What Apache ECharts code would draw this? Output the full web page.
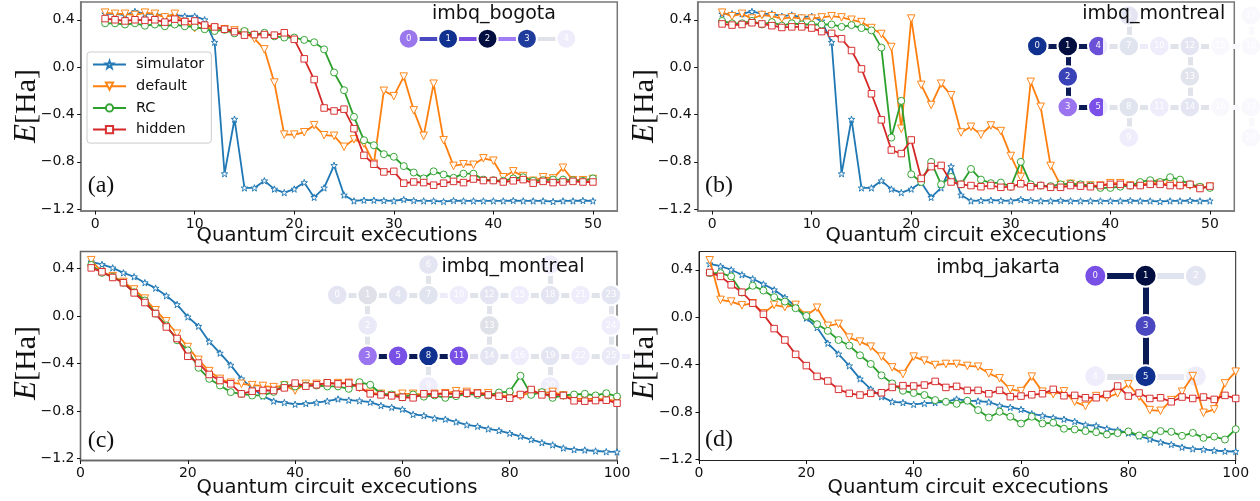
<!DOCTYPE html>
<html>
<head>
<meta charset="utf-8">
<style>
  html, body { margin: 0; padding: 0; background: #fff; }
  #chart { width: 1260px; height: 501px; }
</style>
<script src="https://cdn.jsdelivr.net/npm/echarts@6/dist/echarts.min.js"></script>
</head>
<body>
<div id="chart"></div>
<script>
// x values
const stepsTop = [1,2,3,4,5,6,7,8,9,10,11,12,13,14,15,16,17,18,19,20,21,22,23,24,25,26,27,28,29,30,31,32,33,34,35,36,37,38,39,40,41,42,43,44,45,46,47,48,49,50];
const stepsBottom = [2,4,6,8,10,12,14,16,18,20,22,24,26,28,30,32,34,36,38,40,42,44,46,48,50,52,54,56,58,60,62,64,66,68,70,72,74,76,78,80,82,84,86,88,90,92,94,96,98,100];

// panel (a)
const aSim = [0.45,0.45,0.44,0.47,0.45,0.45,0.43,0.44,0.43,0.43,0.40,0.21,-0.90,-0.44,-1.02,-1.02,-0.96,-1.03,-1.06,-1.03,-0.975,-1.10,-1.02,-0.83,-1.08,-1.13,-1.124,-1.124,-1.127,-1.13,-1.118,-1.127,-1.13,-1.13,-1.135,-1.127,-1.13,-1.13,-1.13,-1.13,-1.13,-1.127,-1.13,-1.13,-1.13,-1.135,-1.13,-1.13,-1.127,-1.13];
const aDefault = [0.46,0.45,0.45,0.44,0.46,0.45,0.42,0.45,0.38,0.33,0.33,0.33,0.32,0.31,0.29,0.24,0.15,-0.13,-0.57,-0.57,-0.55,-0.49,-0.575,-0.58,-0.673,-0.61,-0.645,-0.815,-0.20,-0.245,-0.08,-0.365,-0.58,-0.14,-0.617,-0.834,-0.82,-0.825,-0.77,-0.79,-0.93,-0.88,-0.92,-0.96,-0.93,-0.94,-0.85,-0.955,-0.955,-0.945];
const aRc = [0.37,0.37,0.36,0.37,0.35,0.36,0.345,0.36,0.345,0.34,0.32,0.305,0.315,0.285,0.305,0.275,0.29,0.26,0.25,0.25,0.23,0.21,0.15,-0.045,-0.195,-0.42,-0.617,-0.66,-0.735,-0.757,-0.836,-0.89,-0.94,-0.88,-0.907,-0.935,-0.90,-0.90,-0.95,-0.955,-0.96,-0.94,-0.93,-0.96,-0.955,-0.95,-0.95,-0.955,-0.96,-0.94];
const aHidden = [0.41,0.40,0.39,0.40,0.395,0.40,0.38,0.405,0.385,0.39,0.355,0.34,0.32,0.30,0.27,0.275,0.275,0.27,0.29,0.235,0.07,-0.105,-0.345,-0.37,-0.355,-0.52,-0.745,-0.82,-0.885,-0.88,-0.98,-0.97,-0.975,-0.997,-0.98,-0.965,-0.975,-0.945,-0.958,-0.958,-0.97,-0.96,-0.95,-0.98,-0.965,-0.975,-0.97,-0.965,-0.97,-0.97];

// panel (b)
const bSim = [0.45,0.45,0.45,0.47,0.45,0.45,0.43,0.44,0.42,0.43,0.39,0.21,-0.90,-0.44,-1.02,-1.02,-0.96,-1.03,-1.06,-1.03,-0.975,-1.10,-1.02,-0.84,-1.08,-1.13,-1.127,-1.124,-1.127,-1.13,-1.118,-1.127,-1.13,-1.13,-1.127,-1.13,-1.13,-1.13,-1.13,-1.13,-1.13,-1.127,-1.13,-1.13,-1.135,-1.13,-1.13,-1.127,-1.13,-1.13];
const bDefault = [0.46,0.43,0.45,0.41,0.44,0.43,0.41,0.42,0.41,0.41,0.42,0.43,0.42,0.40,0.38,0.33,0.28,0.17,-0.52,0.41,-0.15,-0.32,-0.14,-0.237,-0.552,-0.504,-0.57,-0.493,-0.54,-0.75,-0.927,-0.124,-0.335,-0.834,-0.997,-0.985,-1.0,-1.0,-1.0,-0.98,-0.98,-1.0,-0.99,-0.98,-0.98,-0.99,-1.0,-1.0,-1.02,-1.01];
const bRc = [0.39,0.37,0.37,0.39,0.36,0.38,0.35,0.37,0.36,0.36,0.36,0.36,0.34,0.355,0.33,0.31,0.165,-0.595,-0.285,-0.905,-0.97,-0.80,-0.99,-0.927,-0.99,-0.86,-0.95,-0.98,-0.975,-1.01,-0.80,-0.99,-1.0,-1.005,-0.99,-0.985,-0.99,-1.0,-1.02,-1.02,-1.01,-1.0,-0.97,-0.955,-0.97,-0.93,-0.95,-0.99,-1.01,-1.02];
const bHidden = [0.365,0.355,0.36,0.375,0.365,0.35,0.335,0.34,0.34,0.33,0.30,0.285,0.24,0.14,-0.015,-0.225,-0.445,-0.70,-0.73,-0.615,-0.94,-0.84,-0.83,-0.97,-0.99,-1.0,-1.01,-1.0,-1.015,-1.01,-0.985,-1.01,-1.0,-1.015,-1.015,-1.0,-1.005,-1.01,-1.0,-0.99,-0.99,-1.0,-1.0,-0.99,-0.99,-1.0,-1.0,-0.99,-1.025,-1.005];

// panel (c)
const cSim = [0.456,0.434,0.405,0.363,0.33,0.28,0.234,0.17,0.096,-0.008,-0.087,-0.217,-0.313,-0.414,-0.53,-0.606,-0.676,-0.718,-0.73,-0.744,-0.738,-0.73,-0.718,-0.70,-0.71,-0.715,-0.727,-0.755,-0.77,-0.786,-0.83,-0.84,-0.862,-0.87,-0.893,-0.918,-0.93,-0.952,-0.966,-0.989,-1.014,-1.042,-1.068,-1.087,-1.113,-1.127,-1.13,-1.138,-1.144,-1.146];
const cDefault = [0.47,0.37,0.335,0.287,0.223,0.146,0.048,-0.045,-0.15,-0.262,-0.37,-0.465,-0.53,-0.563,-0.572,-0.583,-0.59,-0.60,-0.586,-0.628,-0.572,-0.572,-0.572,-0.566,-0.563,-0.606,-0.648,-0.656,-0.67,-0.656,-0.656,-0.662,-0.656,-0.651,-0.634,-0.64,-0.651,-0.651,-0.67,-0.676,-0.676,-0.642,-0.651,-0.64,-0.67,-0.698,-0.698,-0.698,-0.704,-0.718];
const cRc = [0.43,0.363,0.33,0.28,0.20,0.13,0.02,-0.08,-0.205,-0.29,-0.437,-0.53,-0.586,-0.642,-0.656,-0.67,-0.67,-0.64,-0.58,-0.594,-0.586,-0.586,-0.594,-0.594,-0.614,-0.558,-0.58,-0.656,-0.662,-0.685,-0.662,-0.68,-0.67,-0.69,-0.676,-0.656,-0.665,-0.67,-0.645,-0.637,-0.504,-0.665,-0.642,-0.69,-0.67,-0.662,-0.656,-0.67,-0.651,-0.679];
const cHidden = [0.405,0.372,0.324,0.28,0.194,0.113,0.02,-0.093,-0.19,-0.34,-0.397,-0.493,-0.544,-0.572,-0.656,-0.634,-0.628,-0.628,-0.606,-0.566,-0.592,-0.58,-0.563,-0.572,-0.566,-0.60,-0.656,-0.665,-0.673,-0.685,-0.69,-0.656,-0.659,-0.654,-0.659,-0.651,-0.651,-0.665,-0.676,-0.693,-0.662,-0.62,-0.665,-0.662,-0.67,-0.715,-0.718,-0.713,-0.71,-0.735];

// panel (d)
const dSim = [0.45,0.43,0.40,0.358,0.324,0.279,0.231,0.166,0.09,-0.008,-0.087,-0.22,-0.31,-0.41,-0.52,-0.606,-0.67,-0.713,-0.72,-0.735,-0.727,-0.72,-0.713,-0.69,-0.704,-0.707,-0.715,-0.746,-0.76,-0.777,-0.814,-0.83,-0.848,-0.86,-0.879,-0.907,-0.915,-0.94,-0.952,-0.977,-1.003,-1.028,-1.054,-1.073,-1.096,-1.11,-1.115,-1.124,-1.13,-1.132];
const dDefault = [0.48,0.146,0.132,0.10,0.118,0.034,0.104,0.085,0.104,0.014,0.08,-0.073,-0.056,-0.172,-0.206,-0.248,-0.332,-0.423,-0.479,-0.332,-0.366,-0.403,-0.394,-0.394,-0.411,-0.417,-0.473,-0.515,-0.608,-0.623,-0.501,-0.628,-0.648,-0.625,-0.713,-0.749,-0.665,-0.679,-0.642,-0.566,-0.67,-0.783,-0.789,-0.699,-0.628,-0.496,-0.806,-0.777,-0.558,-0.459];
const dRc = [0.372,0.372,0.344,0.208,0.265,0.225,0.169,0.132,0.076,0.011,-0.059,-0.115,-0.192,-0.239,-0.321,-0.394,-0.49,-0.558,-0.62,-0.639,-0.656,-0.699,-0.713,-0.73,-0.704,-0.783,-0.845,-0.797,-0.839,-0.896,-0.839,-0.896,-0.89,-0.94,-0.946,-0.96,-0.969,-0.989,-0.977,-0.963,-0.997,-0.986,-0.96,-0.966,-1.0,-0.975,-1.017,-1.006,-1.031,-0.944];
const dHidden = [0.377,0.344,0.273,0.211,0.118,0.025,-0.096,-0.192,-0.313,-0.408,-0.499,-0.538,-0.608,-0.642,-0.656,-0.642,-0.637,-0.592,-0.577,-0.58,-0.572,-0.541,-0.592,-0.583,-0.617,-0.617,-0.645,-0.617,-0.67,-0.665,-0.654,-0.645,-0.608,-0.662,-0.659,-0.679,-0.679,-0.651,-0.58,-0.665,-0.639,-0.685,-0.679,-0.713,-0.673,-0.685,-0.673,-0.693,-0.659,-0.685];

// tick labels
const yTicks = [-1.2,-0.8,-0.4,0,0.4];
const xTicksTop = [0,10,20,30,40,50];
const xTicksBottom = [0,20,40,60,80,100];
const seriesNames = ['simulator','default','RC','hidden'];

// device maps
const Dk = '#0a1a55', Gy = '#e1e3ea', Lv = '#eeebfa', Fa = '#f9f9fd';
const halfDisc = function (a, b) {
  return {type: 'linear', x: 0, y: 0, x2: 1, y2: 0, colorStops: [
    {offset: 0, color: a}, {offset: 0.7, color: a}, {offset: 0.7, color: b}, {offset: 1, color: b}
  ]};
};
const bogotaCells = [[0,0],[1,0],[2,0],[3,0],[4,0]];
const bogotaLinks = [[0,1],[1,2],[2,3],[3,4]];
const bogotaNodeColors = ['#9b77ee','#10318f','#020d40','#1f3b9b','#efecfb'];
const bogotaLinkColors = ['#4a4ac0','#7a4fe0','#a07df5','#e0e2ea'];

const montrealCells = [[0,0],[1,0],[1,1],[1,2],[2,0],[2,2],[3,-1],[3,0],[3,2],[3,3],[4,0],[4,2],[5,0],[5,1],[5,2],[6,0],[6,2],[7,-1],[7,0],[7,2],[7,3],[8,0],[8,2],[9,0],[9,1],[9,2],[10,2]];
const montrealLinks = [[0,1],[1,2],[1,4],[2,3],[3,5],[4,7],[5,8],[6,7],[7,10],[8,9],[8,11],[10,12],[11,14],[12,13],[12,15],[13,14],[14,16],[15,18],[16,19],[17,18],[18,21],[19,20],[19,22],[21,23],[22,25],[23,24],[24,25],[25,26]];
const montrealBNodeColors = ['#10318f','#020d40','#3a42b8','#9b75ef',halfDisc('#6a50d6','#efecfb'),halfDisc('#7a50e8','#efecfb'),'#e3e6f2','#e0e4ef','#e0e4ef','#efecfb','#efecfb','#efecfb','#e3e6f2','#e1e4ec','#e3e6f2',Fa,Fa,Fa,Fa,Fa,Fa,Fa,Fa,Fa,Fa,Fa,Fa];
const montrealBLinkColors = [Dk,Dk,Dk,Dk,Dk,Gy,Gy,Gy,Lv,Gy,Gy,Gy,Gy,Gy,Gy,Gy,Gy,Fa,Fa,Fa,Fa,Fa,Fa,Fa,Fa,Fa,Fa,Fa];
const montrealCNodeColors = ['#e3e6f2','#dfe1e8','#e9e9f7','#9b75ef','#e3e6f2','#7850e6','#e3e6f2','#e0e4ef','#10318f','#efecfb','#efecfb','#7850e6','#e3e6f2','#dfe1e8','#e3e6f2','#efecfb','#efecfb','#efecfb','#e3e6f2','#e3e6f2','#efecfb','#efecfb','#efecfb','#e3e6f2','#efecfb','#e9e9f7',Fa];
const montrealCLinkColors = [Gy,Gy,Gy,Gy,Dk,Gy,Dk,Gy,Lv,Gy,Dk,Gy,Gy,Gy,Gy,Gy,Gy,Gy,Gy,Gy,Gy,Gy,Gy,Gy,Gy,Gy,Gy,Lv];

const jakartaCells = [[0,0],[1,0],[2,0],[1,1],[0,2],[1,2],[2,2]];
const jakartaLinks = [[0,1],[1,2],[1,3],[3,5],[4,5],[5,6]];
const jakartaNodeColors = ['#7850e6','#020d40','#e3e6f2','#4a47c0','#efecfb','#10318f','#efecfb'];
const jakartaLinkColors = [Dk,'#e0e4f0',Dk,Dk,'#dfe1e8','#e8e8f5'];

const lineColors = ['#1f77b4','#ff7f0e','#2ca02c','#d62728'];
const markers = [
  'path://M12 0L15 8.5H24L17 14L19.5 23L12 17.5L4.5 23L7 14L0 8.5H9Z',
  'path://M0 0H10L5 10Z',
  'circle',
  'rect'
];
const markerSizes = [6.5, 7.5, 7, 6.5];

const panels = [
  {left: 80.7, top: 2, width: 536.6, height: 209, xMin: -1.45, xMax: 52.45, yMin: -1.215, yMax: 0.55, xs: stepsTop, xTicks: xTicksTop, values: [aSim,aDefault,aRc,aHidden], frame: '#777', frameWidth: 1.5},
  {left: 697.7, top: 2, width: 536.6, height: 209, xMin: -1.45, xMax: 52.45, yMin: -1.215, yMax: 0.55, xs: stepsTop, xTicks: xTicksTop, values: [bSim,bDefault,bRc,bHidden], frame: '#777', frameWidth: 1.5},
  {left: 80.5, top: 251.5, width: 536.5, height: 209, xMin: 0, xMax: 100, yMin: -1.218, yMax: 0.543, xs: stepsBottom, xTicks: xTicksBottom, values: [cSim,cDefault,cRc,cHidden], frame: '#666', frameWidth: 1.3},
  {left: 699, top: 251.5, width: 536.7, height: 209, xMin: 0, xMax: 100, yMin: -1.208, yMax: 0.554, xs: stepsBottom, xTicks: xTicksBottom, values: [dSim,dDefault,dRc,dHidden], frame: '#222', frameWidth: 1}
];

const maps = [
  {cells: bogotaCells, links: bogotaLinks, nodeColors: bogotaNodeColors, linkColors: bogotaLinkColors, x0: 408.7, y0: 38.7, pitch: 39.4, r: 9, linkWidth: 4},
  {cells: montrealCells, links: montrealLinks, nodeColors: montrealBNodeColors, linkColors: montrealBLinkColors, x0: 1037.3, y0: 46, pitch: 30.5, r: 9.3, linkWidth: 5},
  {cells: montrealCells, links: montrealLinks, nodeColors: montrealCNodeColors, linkColors: montrealCLinkColors, x0: 337.3, y0: 295, pitch: 30.4, r: 9.3, linkWidth: 5},
  {cells: jakartaCells, links: jakartaLinks, nodeColors: jakartaNodeColors, linkColors: jakartaLinkColors, x0: 1095.3, y0: 275.7, pitch: 50.3, r: 10, linkWidth: 6}
];

const chart = echarts.init(document.getElementById('chart'));

const grid = [], xAxis = [], yAxis = [], series = [];

panels.forEach((p, i) => {
  grid.push({left: p.left, top: p.top, width: p.width, height: p.height, show: true, borderColor: p.frame, borderWidth: p.frameWidth, backgroundColor: '#fff'});
  const axisBase = {
    gridIndex: i,
    type: 'value',
    splitLine: {show: false},
    axisLine: {onZero: false, lineStyle: {color: p.frame, width: p.frameWidth}},
    axisTick: {length: 3.5, lineStyle: {color: '#111', width: 1}}
  };
  xAxis.push({
    ...axisBase, min: p.xMin, max: p.xMax,
    axisTick: {...axisBase.axisTick, customValues: p.xTicks},
    axisLabel: {customValues: p.xTicks, margin: 6, color: '#111', fontFamily: 'DejaVu Sans', fontSize: 14, hideOverlap: false, formatter: v => String(v)}
  });
  yAxis.push({
    ...axisBase, min: p.yMin, max: p.yMax,
    axisTick: {...axisBase.axisTick, customValues: yTicks},
    axisLabel: {customValues: yTicks, margin: 6, color: '#111', fontFamily: 'DejaVu Sans', fontSize: 14, hideOverlap: false, formatter: v => v.toFixed(1).replace('-', '\u2212')}
  });
  seriesNames.forEach((name, k) => {
    series.push({
      name: name,
      type: 'line',
      xAxisIndex: i,
      yAxisIndex: i,
      z: 3 + k,
      data: p.xs.map((x, n) => [x, p.values[k][n]]),
      showAllSymbol: true,
      symbol: markers[k],
      symbolSize: markerSizes[k],
      lineStyle: {color: lineColors[k], width: 1.8},
      itemStyle: {color: '#fff', borderColor: lineColors[k], borderWidth: 1, opacity: 0.95},
      emphasis: {disabled: true},
      animation: false
    });
  });
});

// full canvas pixel grid just for the device maps
grid.push({left: 0, top: 0, width: 1260, height: 501, show: false});
xAxis.push({gridIndex: 4, type: 'value', min: 0, max: 1260, show: false});
yAxis.push({gridIndex: 4, type: 'value', min: 0, max: 501, inverse: true, show: false});

maps.forEach(m => {
  series.push({
    type: 'graph',
    layout: 'none',
    coordinateSystem: 'cartesian2d',
    xAxisIndex: 4,
    yAxisIndex: 4,
    z: 2,
    silent: true,
    animation: false,
    symbol: 'circle',
    symbolSize: 2 * m.r + 2,
    label: {show: true, position: 'inside', formatter: '{b}', color: 'rgba(255,255,255,0.95)', fontFamily: 'DejaVu Sans', fontSize: 8.5},
    data: m.cells.map((c, n) => ({
      name: String(n),
      value: [m.x0 + c[0] * m.pitch, m.y0 + c[1] * m.pitch],
      itemStyle: {color: m.nodeColors[n], borderColor: '#fff', borderWidth: 2}
    })),
    links: m.links.map((l, n) => ({
      source: l[0],
      target: l[1],
      lineStyle: {color: m.linkColors[n], width: m.linkWidth, opacity: 1, curveness: 0}
    }))
  });
});

function txt(text, x, y, font, rotation) {
  return {
    type: 'text', x: x, y: y, rotation: rotation || 0, silent: true, z: 50,
    style: {text: text, font: font, fill: '#111', align: 'center', verticalAlign: 'middle'}
  };
}
function yLabel(x, y) {
  return {
    type: 'text', x: x, y: y, rotation: Math.PI / 2, silent: true, z: 50,
    style: {
      text: '{e|E}{r|[Ha]}', align: 'center', verticalAlign: 'middle', fill: '#111',
      rich: {
        e: {font: 'italic 31px "Liberation Serif"', fill: '#111'},
        r: {font: '30px "Liberation Serif"', fill: '#111'}
      }
    }
  };
}
const sans = '"DejaVu Sans"';
const graphicTexts = [
  txt('imbq_bogota', 494, 14, '19px ' + sans),
  txt('imbq_montreal', 1153.7, 14, '19px ' + sans),
  txt('imbq_montreal', 513, 267, '19px ' + sans),
  txt('imbq_jakarta', 998, 268, '19px ' + sans),
  txt('Quantum circuit excecutions', 337, 236, '19.6px ' + sans),
  txt('Quantum circuit excecutions', 966, 236, '19.6px ' + sans),
  txt('Quantum circuit excecutions', 337, 488, '19.6px ' + sans),
  txt('Quantum circuit excecutions', 968, 488, '19.6px ' + sans),
  txt('(a)', 101, 186, '24px "Liberation Serif"'),
  txt('(b)', 719, 186, '24px "Liberation Serif"'),
  txt('(c)', 101, 441, '24px "Liberation Serif"'),
  txt('(d)', 719, 440, '24px "Liberation Serif"'),
  yLabel(27, 106),
  yLabel(645, 106),
  yLabel(27, 363),
  yLabel(645, 363)
];

const option = {
  animation: false,
  backgroundColor: '#fff',
  grid: grid,
  xAxis: xAxis,
  yAxis: yAxis,
  legend: {
    data: seriesNames,
    orient: 'vertical',
    left: 87,
    top: 52,
    itemWidth: 33,
    itemHeight: 9,
    itemGap: 6.7,
    padding: [5, 7, 6, 5],
    borderColor: '#ccc',
    borderWidth: 1,
    borderRadius: 3,
    backgroundColor: 'rgba(255,255,255,0.85)',
    textStyle: {fontFamily: 'DejaVu Sans', fontSize: 14.5, color: '#111', padding: [0, 0, 0, 5]},
    selectedMode: false,
    z: 20
  },
  graphic: graphicTexts,
  series: series
};
chart.setOption(option);
window.addEventListener('resize', () => { chart.resize() });
</script>
</body>
</html>
